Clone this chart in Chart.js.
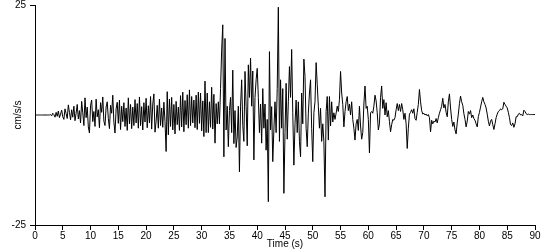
<!DOCTYPE html>
<html>
<head>
<meta charset="utf-8">
<script src="https://cdn.jsdelivr.net/npm/chart.js@4.4.1/dist/chart.umd.min.js"></script>
<style>
  html, body { margin: 0; padding: 0; background: #fff; }
  #wrap { width: 550px; height: 250px; }
</style>
</head>
<body>
<div id="wrap"><canvas id="accChart"></canvas></div>
<script>
// sample step of the record (s)
const dt = 0.2;
const xTicks = [0, 5, 10, 15, 20, 25, 30, 35, 40, 45, 50, 55, 60, 65, 70, 75, 80, 85, 90];
const yTicks = [-25, 25];

// acceleration, cm/s/s, one row per second (5 samples)
const accel = [
  0, 0, 0, 0, 0,
  0, 0, 0, 0, 0,
  0, 0, 0, 0, 0.1,
  -0.2, 0.4, 0.1, -0.5, 0.6,
  -0.3, 0.9, -0.6, 0.2, 1.1,
  -0.4, -1.0, 1.4, 0.3, -0.8,
  2.3, 0.6, -1.1, 1.2, -0.5,
  2.0, -1.3, 0.4, 2.4, -0.9,
  1.0, -1.8, 3.1, 0.5, -2.4,
  3.9, -0.6, 1.8, -2.7, -4.1,
  2.2, 3.4, -1.5, 0.8, -2.6,
  3.6, -0.4, 1.2, -2.9, 2.8,
  0.6, 4.1, -1.4, -2.4, 1.8,
  3.0, -0.8, -3.1, 2.2, 0.4,
  4.5, -1.6, -4.1, 1.4, 2.9,
  -1.9, 3.4, -3.3, 2.0, -1.5,
  2.8, -2.6, 1.6, -3.5, 3.9,
  -2.0, 2.4, -3.1, 1.8, -2.4,
  3.5, -1.8, 2.6, -3.0, 4.1,
  -2.4, 1.9, -3.4, 2.8, -1.6,
  3.8, -2.9, 2.1, -1.8, 4.2,
  -3.2, 2.5, 4.8, -3.9, -1.4,
  2.2, -3.0, 3.6, -2.4, 1.6,
  -2.8, 2.9, -1.5, -8.3, 5.3,
  -4.5, 3.6, -2.6, 4.0, -3.4,
  2.4, -4.3, 3.1, -2.2, 1.8,
  -3.5, 4.4, -2.7, 5.2, -3.8,
  3.3, -2.2, 4.6, -3.0, 5.7,
  -2.4, 4.2, -1.8, 3.4, -2.9,
  4.5, -3.3, 5.2, -1.9, 5.0,
  -3.6, 3.2, -4.9, 7.7, -4.0,
  5.0, -4.0, 3.0, -2.8, 6.3,
  -3.2, 4.7, -6.4, 2.6, -2.0,
  3.0, -2.0, 6.0, 14.8, 20.5,
  -9.5, 17.4, -3.4, 2.0, -7.2,
  1.0, 4.0, -4.0, 10.2, -6.5,
  1.0, -7.4, -5.0, 2.0, -12.9,
  2.0, 8.0, -2.4, -6.0, 9.9,
  2.0, -7.0, 11.4, 4.0, 12.9,
  2.0, 10.0, -10.2, 4.0, 8.0,
  10.6, 4.0, -4.0, 2.5, -6.4,
  6.0, -3.0, 2.5, -8.0, -1.0,
  -19.7, 14.4, -3.4, 1.9, -10.6,
  -3.4, 3.0, -4.0, 6.0, 24.5,
  -6.0, 8.0, -3.0, 6.0, -17.8,
  -4.0, 7.2, -5.5, 3.0, 11.0,
  4.0, 14.9, 0.5, -11.4, -2.0,
  3.4, -4.0, 3.0, -6.0, -9.5,
  5.0, -2.0, 12.7, 8.7, -3.0,
  -7.2, 0.4, 5.0, 8.0, -3.0,
  -10.6, 0.5, 3.0, 11.9, 7.0,
  2.0, -3.0, 1.5, -6.0, -2.0,
  -6.0, -18.6, 0.8, 4.2, -5.7,
  4.2, -2.5, 3.0, -1.6, 0.5,
  -1.0, 0.4, 2.0, 0.8, 3.5,
  9.9, 5.0, 2.4, -2.7, 0.8,
  3.0, 4.2, 1.0, 2.5, 0.0,
  3.0, -1.0, -3.0, -5.7, -2.0,
  -1.0, -3.5, 2.0, -2.5, -5.5,
  -4.0, 2.5, 6.6, 1.5, 2.0,
  -1.0, -8.6, 0.5, 0.8, 0.4,
  2.0, 4.5, 3.2, 0.5, -3.4,
  -2.0, 4.0, 6.6, 1.5, 3.5,
  0.0, 2.8, -0.4, 1.0, -1.5,
  -3.8, -2.2, -1.0, -1.2, -0.6,
  1.2, 2.6, 1.0, 2.4, 0.8,
  2.6, 1.2, -1.0, 0.4, -2.0,
  -7.6, -3.0, 0.2, 0.6, 1.2,
  0.4, 1.4, -0.8, -1.2, 0.6,
  2.4, 5.8, 3.0, 1.0, 0.2,
  0.4, 0.0, 0.2, -0.2, 0.1,
  -0.6, -3.8, -1.2, -2.0, -1.4,
  -1.6, -0.8, -1.8, -0.6, 0.4,
  1.2, 2.0, 3.8, 1.6, 2.4,
  0.6, -0.4, 3.0, 4.8, 1.6,
  -1.0, -2.6, -1.6, -3.4, -4.3,
  -1.8, 0.2, 2.6, 4.3, 3.0,
  2.2, 0.3, -1.0, -2.7, -1.4,
  0.8, 0.2, 1.0, -0.6, 0.0,
  -0.8, -1.2, -2.0, -2.7, -0.4,
  0.6, 1.8, 3.0, 4.0, 3.0,
  2.4, 1.6, 0.2, -1.4, -2.5,
  -1.4, -1.0, -2.2, -3.3, -2.0,
  -0.6, 0.2, 0.8, 1.0, 1.4,
  1.2, 1.4, 2.9, 2.4, 2.0,
  1.6, 0.6, -0.6, -2.2, -2.4,
  -1.8, -2.8, -2.0, -0.4, -0.4,
  0.2, 0.4, 0.0, 0.1, -0.2,
  1.1, 0.8, 0.3, 0.1, 0.2,
  0.1, 0.1, 0.1, 0.1, 0.1,
  0.1
];

const points = accel.map((v, i) => ({ x: +(i * dt).toFixed(1), y: v }));

Chart.defaults.font.family = '"Liberation Sans", Arial, sans-serif';
Chart.defaults.font.size = 10;
Chart.defaults.color = '#000';

new Chart(document.getElementById('accChart'), {
  type: 'line',
  data: {
    datasets: [{
      data: points,
      borderColor: '#000',
      borderWidth: 1,
      pointRadius: 0,
      tension: 0,
      fill: false
    }]
  },
  options: {
    responsive: true,
    maintainAspectRatio: false,
    animation: false,
    layout: { padding: { top: 5, right: 15, left: 0, bottom: 0 } },
    plugins: { legend: { display: false }, tooltip: { enabled: false } },
    scales: {
      x: {
        type: 'linear',
        min: 0,
        max: 90,
        afterBuildTicks: axis => { axis.ticks = xTicks.map(v => ({ value: v })); },
        afterFit: scale => { scale.height = 25; },
        ticks: { autoSkip: false, maxRotation: 0, padding: 0 },
        grid: { drawOnChartArea: false, color: '#000', tickLength: 5 },
        border: { color: '#000' },
        title: { display: true, text: 'Time (s)', padding: 0 }
      },
      y: {
        min: -25,
        max: 25,
        afterBuildTicks: axis => { axis.ticks = yTicks.map(v => ({ value: v })); },
        afterFit: scale => { scale.width = 35; scale.paddingTop = 0; scale.paddingBottom = 0; },
        ticks: { padding: 4 },
        grid: { drawOnChartArea: false, color: '#000', tickLength: 5 },
        border: { color: '#000' },
        title: { display: true, text: 'cm/s/s', padding: { top: 12, bottom: 0 } }
      }
    }
  }
});
</script>
</body>
</html>
